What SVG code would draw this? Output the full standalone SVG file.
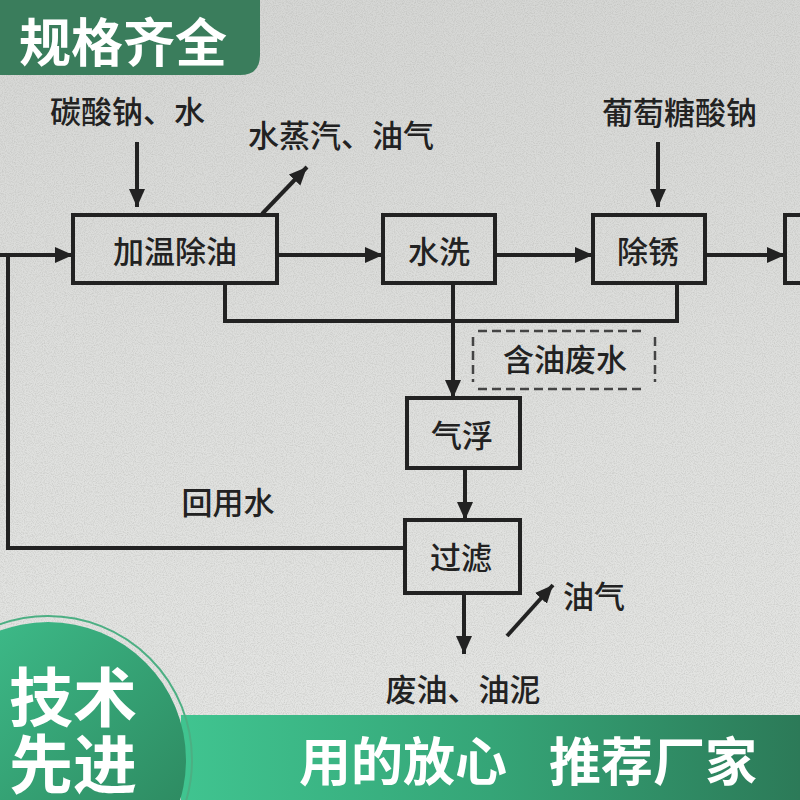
<svg xmlns="http://www.w3.org/2000/svg" width="800" height="800" viewBox="0 0 800 800">
  <defs>
    <style>
      .box{fill:none;stroke:#222;stroke-width:4}
      .ln{fill:none;stroke:#222;stroke-width:4}
      .dash{fill:none;stroke:#444;stroke-width:2.5;stroke-dasharray:9,5}
      .t{font-family:"Noto Sans CJK SC","Noto Sans",sans-serif;font-size:31px;fill:#222;font-weight:500}
      .w{font-family:"Noto Sans CJK SC","Noto Sans",sans-serif;fill:#fff;font-weight:700}
    </style>
    <marker id="ah" markerUnits="userSpaceOnUse" markerWidth="20" markerHeight="18" refX="18" refY="8" orient="auto">
      <path d="M0,0 L18,8 L0,16 Z" fill="#222"/>
    </marker>
    <linearGradient id="bar" x1="0" y1="0" x2="1" y2="0">
      <stop offset="0" stop-color="#40c490"/>
      <stop offset="0.5" stop-color="#35a577"/>
      <stop offset="1" stop-color="#2c7a58"/>
    </linearGradient>
    <linearGradient id="circ" x1="0" y1="0" x2="1" y2="1">
      <stop offset="0" stop-color="#40c490"/>
      <stop offset="1" stop-color="#2a7f58"/>
    </linearGradient>
    <linearGradient id="wall" x1="0" y1="0" x2="0" y2="1">
      <stop offset="0" stop-color="#d6d7d5"/>
      <stop offset="0.5" stop-color="#dfe0de"/>
      <stop offset="1" stop-color="#e5e6e4"/>
    </linearGradient>
    <filter id="noise" x="0" y="0" width="100%" height="100%">
      <feTurbulence type="fractalNoise" baseFrequency="0.9" numOctaves="2" seed="3"/>
      <feColorMatrix values="0 0 0 0 0.35  0 0 0 0 0.35  0 0 0 0 0.33  0 0 0 -2.2 1.35"/>
    </filter>
  </defs>

  <rect width="800" height="800" fill="url(#wall)"/>
  <rect width="800" height="800" filter="url(#noise)" opacity="0.3"/>

  <g id="banner-top">
    <path d="M0,0 H260 V55 Q260,75 240,75 H0 Z" fill="#3a7d5c"/>
    <text class="w" x="19" y="62" font-size="52">规格齐全</text>
  </g>

  <g id="connectors">
    <line class="ln" x1="137" y1="142" x2="137" y2="207" marker-end="url(#ah)"/>
    <line class="ln" x1="658" y1="142" x2="658" y2="207" marker-end="url(#ah)"/>
    <line class="ln" x1="262" y1="214" x2="307" y2="167" marker-end="url(#ah)"/>
    <line class="ln" x1="277" y1="255" x2="383" y2="255" marker-end="url(#ah)"/>
    <line class="ln" x1="495" y1="255" x2="593" y2="255" marker-end="url(#ah)"/>
    <line class="ln" x1="705" y1="255" x2="785" y2="255" marker-end="url(#ah)"/>
    <polyline class="ln" points="225,283 225,321 677,321 677,283"/>
    <line class="ln" x1="453" y1="283" x2="453" y2="398" marker-end="url(#ah)"/>
    <line class="ln" x1="465" y1="468" x2="465" y2="520" marker-end="url(#ah)"/>
    <line class="ln" x1="464" y1="593" x2="464" y2="654" marker-end="url(#ah)"/>
    <line class="ln" x1="507" y1="636" x2="553" y2="585" marker-end="url(#ah)"/>
    <polyline class="ln" points="405,548 8,548 8,255"/>
    <line class="ln" x1="0" y1="255" x2="73" y2="255" marker-end="url(#ah)"/>
    <line class="dash" x1="478" y1="331" x2="645" y2="331"/>
    <line class="dash" x1="478" y1="389" x2="645" y2="389"/>
    <line class="dash" x1="473" y1="337" x2="473" y2="382"/>
    <line class="dash" x1="655" y1="337" x2="655" y2="382"/>
  </g>

  <g id="n-jiawen">
    <rect class="box" x="73" y="215" width="204" height="68"/>
    <text class="t" x="175" y="263" text-anchor="middle">加温除油</text>
  </g>
  <g id="n-shuixi">
    <rect class="box" x="383" y="215" width="112" height="68"/>
    <text class="t" x="439" y="263" text-anchor="middle">水洗</text>
  </g>
  <g id="n-chuxiu">
    <rect class="box" x="593" y="215" width="112" height="68"/>
    <text class="t" x="648" y="263" text-anchor="middle">除锈</text>
  </g>
  <g id="n-next">
    <rect class="box" x="785" y="215" width="30" height="68"/>
  </g>
  <g id="n-qifu">
    <rect class="box" x="407" y="398" width="113" height="70"/>
    <text class="t" x="462" y="447" text-anchor="middle">气浮</text>
  </g>
  <g id="n-guolv">
    <rect class="box" x="405" y="520" width="115" height="73"/>
    <text class="t" x="461" y="569" text-anchor="middle">过滤</text>
  </g>

  <g id="labels">
    <text class="t" x="50" y="123">碳酸钠、水</text>
    <text class="t" x="248" y="147">水蒸汽、油气</text>
    <text class="t" x="602" y="124">葡萄糖酸钠</text>
    <text class="t" x="565" y="371" text-anchor="middle">含油废水</text>
    <text class="t" x="228" y="514" text-anchor="middle" font-size="32">回用水</text>
    <text class="t" x="594" y="608" text-anchor="middle">油气</text>
    <text class="t" x="463" y="701" text-anchor="middle">废油、油泥</text>
  </g>

  <g id="banner-bottom">
    <rect x="181" y="715" width="619" height="85" fill="url(#bar)"/>
    <circle cx="48" cy="760" r="144" fill="none" stroke="#4caf83" stroke-width="2"/>
    <circle cx="48" cy="760" r="138" fill="url(#circ)"/>
    <text class="w" x="9" y="721" font-size="64">技术</text>
    <text class="w" x="9" y="788" font-size="64">先进</text>
    <text class="w" x="299" y="781" font-size="52">用的放心</text>
    <text class="w" x="549" y="781" font-size="52">推荐厂家</text>
  </g>
</svg>
